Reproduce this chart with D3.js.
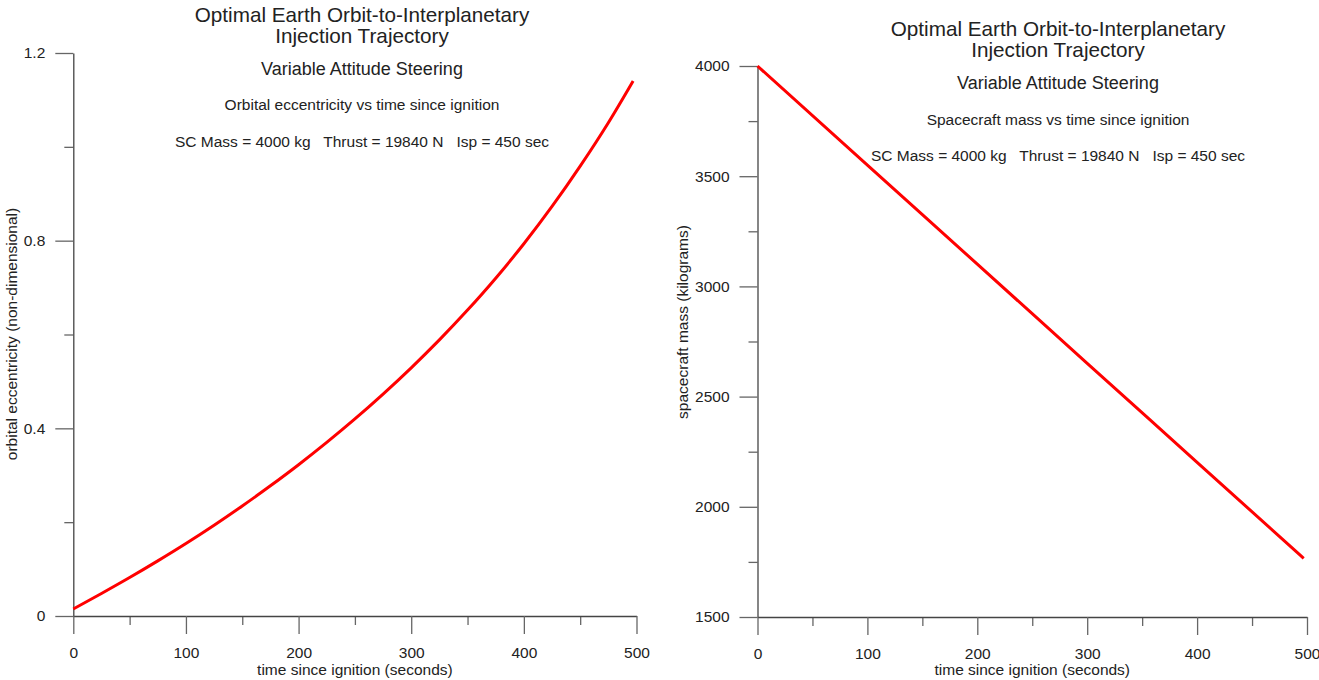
<!DOCTYPE html>
<html><head><meta charset="utf-8">
<script src="https://cdn.jsdelivr.net/npm/d3@7"></script>
<style>
body{margin:0;background:#fff;}
text{font-family:"Liberation Sans",Arial,sans-serif;fill:#222;}
</style></head>
<body><svg id="c" width="1319" height="680"></svg>
<script>
// ---- data ----
const timeSec = [0,25,50,75,100,125,150,175,200,225,250,275,300,325,350,375,400,425,450,475,497];
const eccentricity = [0.015,0.048,0.082,0.1175,0.1545,0.1935,0.2345,0.2775,0.3225,0.370,0.420,0.473,0.529,0.5885,0.652,0.720,0.7935,0.873,0.959,1.0515,1.1405];
const massTime = [0,100,200,300,400,497];
const massKg = [4000,3550,3101,2651,2202,1766];
const xTicks = [0,100,200,300,400,500];
const xMinor = [50,150,250,350,450];
const eccTicks = [0,0.4,0.8,1.2];
const eccMinor = [0.2,0.6,1.0];
const massTicks = [1500,2000,2500,3000,3500,4000];
const massMinor = [1750,2250,2750,3250,3750];
const titleLines = ["Optimal Earth Orbit-to-Interplanetary","Injection Trajectory"];
const subtitle = "Variable Attitude Steering";
const params = "SC Mass = 4000 kg   Thrust = 19840 N   Isp = 450 sec";
const xLabel = "time since ignition (seconds)";

const svg = d3.select("#c");
const FONT = "'Liberation Sans',Arial,sans-serif";

function chart(o){
  const g = svg.append("g");
  const x = d3.scaleLinear().domain([0,500]).range([o.x0,o.x1]);
  const y = d3.scaleLinear().domain(o.yDom).range([o.y0,o.y1]);
  // minor ticks
  g.append("g").attr("transform",`translate(0,${o.y0})`)
    .call(d3.axisBottom(x).tickValues(xMinor).tickFormat("").tickSize(9).tickSizeOuter(0))
    .call(s=>{s.select(".domain").remove();s.selectAll("line").attr("stroke","#666").attr("stroke-width",1.3);});
  g.append("g").attr("transform",`translate(${o.x0},0)`)
    .call(d3.axisLeft(y).tickValues(o.yMinor).tickFormat("").tickSize(9).tickSizeOuter(0))
    .call(s=>{s.select(".domain").remove();s.selectAll("line").attr("stroke","#666").attr("stroke-width",1.3);});
  // major
  const ax = g.append("g").attr("transform",`translate(0,${o.y0})`)
    .call(d3.axisBottom(x).tickValues(xTicks).tickFormat(d3.format("d")).tickSize(18).tickSizeOuter(0).tickPadding(13));
  ax.select(".domain").attr("stroke","#444").attr("stroke-width",1.3);
  ax.selectAll("line").attr("stroke","#666").attr("stroke-width",1.3);
  ax.selectAll("text").style("font-size","15.5px").style("font-family",FONT).attr("fill","#222");
  const ay = g.append("g").attr("transform",`translate(${o.x0},0)`)
    .call(d3.axisLeft(y).tickValues(o.yTicks).tickFormat(o.fmt).tickSize(18).tickSizeOuter(0).tickPadding(10));
  ay.select(".domain").attr("stroke","#444").attr("stroke-width",1.3);
  ay.selectAll("line").attr("stroke","#666").attr("stroke-width",1.3);
  ay.selectAll("text").style("font-size","15.5px").style("font-family",FONT).attr("fill","#222");
  // line
  const pts = o.xs.map((t,i)=>[t,o.ys[i]]);
  g.append("path").datum(pts)
    .attr("d",d3.line().x(d=>x(d[0])).y(d=>y(d[1])).curve(d3.curveMonotoneX))
    .attr("fill","none").attr("stroke","#ff0000").attr("stroke-width",3);
  // labels
  g.append("text").attr("x",(o.x0+o.x1)/2).attr("y",o.xlabY).attr("text-anchor","middle")
    .style("font-size","15.5px").text(xLabel);
  g.append("text").attr("transform",`translate(${o.ylabX},${o.ylabY}) rotate(-90)`).attr("text-anchor","middle")
    .style("font-size","15.5px").text(o.yLabel);
  const tx = o.tx;
  g.append("text").attr("x",tx).attr("y",o.ty[0]).attr("text-anchor","middle").style("font-size","20.7px").text(titleLines[0]);
  g.append("text").attr("x",tx).attr("y",o.ty[1]).attr("text-anchor","middle").style("font-size","20.7px").text(titleLines[1]);
  g.append("text").attr("x",tx).attr("y",o.ty[2]).attr("text-anchor","middle").style("font-size","18px").text(subtitle);
  g.append("text").attr("x",tx).attr("y",o.ty[3]).attr("text-anchor","middle").style("font-size","15.5px").text(o.desc);
  g.append("text").attr("x",tx).attr("y",o.ty[4]).attr("text-anchor","middle").style("font-size","15.5px")
    .attr("xml:space","preserve").style("white-space","pre").text(params);
}

chart({x0:73.3,x1:636.5,y0:616,y1:53,yDom:[0,1.2],yTicks:eccTicks,yMinor:eccMinor,
  fmt:d=>d===0?"0":d3.format(".1f")(d),xs:timeSec,ys:eccentricity,
  yLabel:"orbital eccentricity (non-dimensional)",ylabX:17,ylabY:334,xlabY:675,
  tx:362,ty:[22,43,75,110,147],desc:"Orbital eccentricity vs time since ignition"});

chart({x0:757.5,x1:1307,y0:617,y1:66,yDom:[1500,4000],yTicks:massTicks,yMinor:massMinor,
  fmt:d3.format("d"),xs:massTime,ys:massKg,
  yLabel:"spacecraft mass (kilograms)",ylabX:688,ylabY:322,xlabY:675,
  tx:1058,ty:[36,57,89,125,161],desc:"Spacecraft mass vs time since ignition"});
</script></body></html>
